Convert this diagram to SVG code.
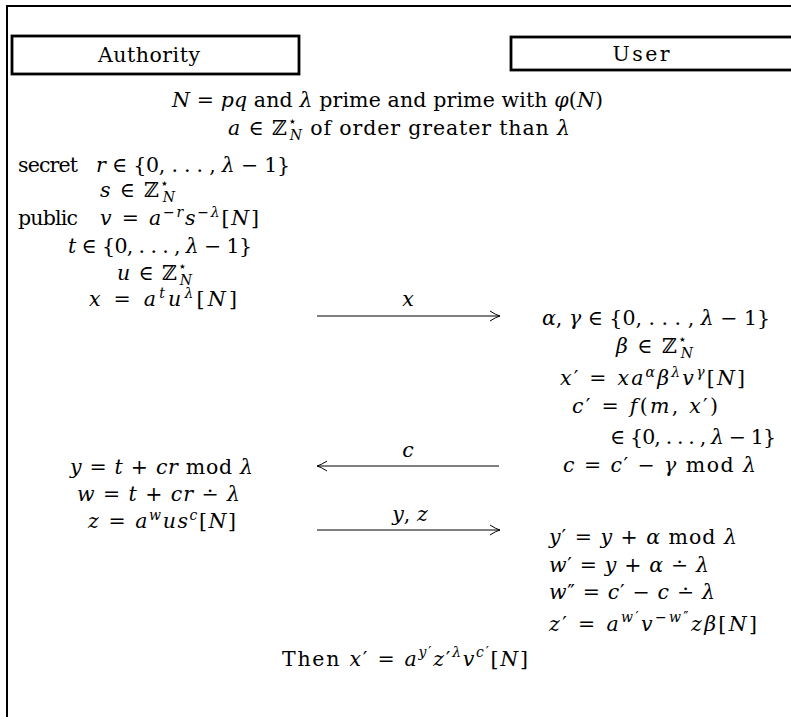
<svg xmlns="http://www.w3.org/2000/svg" width="791" height="717" viewBox="0 0 791 717">
<style>
.t { font-family: "DejaVu Serif", "Liberation Serif", serif; font-size: 20.5px; fill: #000; }
.i { font-style: italic; }
.s { font-size: 14px; }
.frame { fill: none; stroke: #000; stroke-width: 2; }
.box { fill: #fff; stroke: #000; stroke-width: 2.8; }
.arr { stroke: #000; stroke-width: 1.2; fill: none; }
.mid { text-anchor: middle; }
</style>
<defs>
<marker id="ah" viewBox="-11 -6 13 12" markerWidth="13" markerHeight="12" refX="0" refY="0" orient="auto" markerUnits="userSpaceOnUse">
<path d="M-10,-5 Q-4,-1 0,0 Q-4,1 -10,5" fill="none" stroke="#000" stroke-width="1"/>
</marker>
</defs>
<rect width="791" height="717" fill="#fff"/>
<g id="frame">
<path class="frame" d="M7,717 V6 H791"/>
</g>
<g id="authority-header">
<rect class="box" x="12" y="36" width="287" height="38"/>
<text class="t mid" x="149" y="62" textLength="102" lengthAdjust="spacing">Authority</text>
</g>
<g id="user-header">
<rect class="box" x="511" y="37" width="290" height="33"/>
<text class="t mid" x="641" y="61" textLength="57" lengthAdjust="spacing">User</text>
</g>
<g id="parameters">
<text class="t" x="172" y="107" textLength="431" lengthAdjust="spacing"><tspan class="i">N</tspan> = <tspan class="i">pq</tspan> and <tspan class="i">λ</tspan> prime and prime with <tspan class="i">φ</tspan>(<tspan class="i">N</tspan>)</text>
<text class="t" x="228" y="135" textLength="342" lengthAdjust="spacing"><tspan class="i">a</tspan> ∈ ℤ<tspan class="s" dy="-9">⋆</tspan><tspan class="s i" dx="-8" dy="14">N</tspan><tspan dy="-5"> of order greater than </tspan><tspan class="i">λ</tspan></text>
</g>
<g id="authority-setup">
<text class="t" x="18" y="172" textLength="60" lengthAdjust="spacing">secret</text>
<text class="t" x="96" y="172" textLength="194" lengthAdjust="spacing"><tspan class="i">r</tspan> ∈ {0, . . . , <tspan class="i">λ</tspan> − 1}</text>
<text class="t" x="100" y="197" textLength="75" lengthAdjust="spacing"><tspan class="i">s</tspan> ∈ ℤ<tspan class="s" dy="-9">⋆</tspan><tspan class="s i" dx="-8" dy="14">N</tspan></text>
<text class="t" x="18" y="225" textLength="60" lengthAdjust="spacing">public</text>
<text class="t" x="100" y="225" textLength="159" lengthAdjust="spacing"><tspan class="i">v</tspan> = <tspan class="i">a</tspan><tspan class="s" dy="-8">−<tspan class="i">r</tspan></tspan><tspan class="i" dy="8">s</tspan><tspan class="s" dy="-8">−<tspan class="i">λ</tspan></tspan><tspan dy="8">[<tspan class="i">N</tspan>]</tspan></text>
<text class="t" x="68" y="253" textLength="184" lengthAdjust="spacing"><tspan class="i">t</tspan> ∈ {0, . . . , <tspan class="i">λ</tspan> − 1}</text>
<text class="t" x="117" y="280" textLength="75" lengthAdjust="spacing"><tspan class="i">u</tspan> ∈ ℤ<tspan class="s" dy="-9">⋆</tspan><tspan class="s i" dx="-8" dy="14">N</tspan></text>
<text class="t" x="89" y="306" textLength="148" lengthAdjust="spacing"><tspan class="i">x</tspan> = <tspan class="i">a</tspan><tspan class="s i" dy="-8">t</tspan><tspan class="i" dy="8">u</tspan><tspan class="s i" dy="-8">λ</tspan><tspan dy="8">[<tspan class="i">N</tspan>]</tspan></text>
</g>
<g id="user-commit">
<text class="t" x="542" y="325" textLength="228" lengthAdjust="spacing"><tspan class="i">α</tspan>, <tspan class="i">γ</tspan> ∈ {0, . . . , <tspan class="i">λ</tspan> − 1}</text>
<text class="t" x="616" y="353" textLength="77" lengthAdjust="spacing"><tspan class="i">β</tspan> ∈ ℤ<tspan class="s" dy="-9">⋆</tspan><tspan class="s i" dx="-8" dy="14">N</tspan></text>
<text class="t" x="560" y="385" textLength="185" lengthAdjust="spacing"><tspan class="i">x</tspan>′ = <tspan class="i">xa</tspan><tspan class="s i" dy="-8">α</tspan><tspan class="i" dy="8">β</tspan><tspan class="s i" dy="-8">λ</tspan><tspan class="i" dy="8">v</tspan><tspan class="s i" dy="-8">γ</tspan><tspan dy="8">[<tspan class="i">N</tspan>]</tspan></text>
<text class="t" x="572" y="413" textLength="146" lengthAdjust="spacing"><tspan class="i">c</tspan>′ = <tspan class="i">f</tspan>(<tspan class="i">m</tspan>, <tspan class="i">x</tspan>′)</text>
<text class="t" x="610" y="444" textLength="166" lengthAdjust="spacing">∈ {0, . . . , <tspan class="i">λ</tspan> − 1}</text>
<text class="t" x="563" y="472" textLength="193" lengthAdjust="spacing"><tspan class="i">c</tspan> = <tspan class="i">c</tspan>′ − <tspan class="i">γ</tspan> mod <tspan class="i">λ</tspan></text>
</g>
<g id="authority-response">
<text class="t" x="70" y="474" textLength="183" lengthAdjust="spacing"><tspan class="i">y</tspan> = <tspan class="i">t</tspan> + <tspan class="i">cr</tspan> mod <tspan class="i">λ</tspan></text>
<text class="t" x="77" y="501" textLength="163" lengthAdjust="spacing"><tspan class="i">w</tspan> = <tspan class="i">t</tspan> + <tspan class="i">cr</tspan> ∸ <tspan class="i">λ</tspan></text>
<text class="t" x="88" y="528" textLength="148" lengthAdjust="spacing"><tspan class="i">z</tspan> = <tspan class="i">a</tspan><tspan class="s i" dy="-8">w</tspan><tspan class="i" dy="8">us</tspan><tspan class="s i" dy="-8">c</tspan><tspan dy="8">[<tspan class="i">N</tspan>]</tspan></text>
</g>
<g id="user-unblind">
<text class="t" x="549" y="544" textLength="188" lengthAdjust="spacing"><tspan class="i">y</tspan>′ = <tspan class="i">y</tspan> + <tspan class="i">α</tspan> mod <tspan class="i">λ</tspan></text>
<text class="t" x="549" y="572" textLength="160" lengthAdjust="spacing"><tspan class="i">w</tspan>′ = <tspan class="i">y</tspan> + <tspan class="i">α</tspan> ∸ <tspan class="i">λ</tspan></text>
<text class="t" x="549" y="599" textLength="166" lengthAdjust="spacing"><tspan class="i">w</tspan>″ = <tspan class="i">c</tspan>′ − <tspan class="i">c</tspan> ∸ <tspan class="i">λ</tspan></text>
<text class="t" x="549" y="631" textLength="208" lengthAdjust="spacing"><tspan class="i">z</tspan>′ = <tspan class="i">a</tspan><tspan class="s" dy="-9"><tspan class="i">w</tspan>′</tspan><tspan class="i" dy="9">v</tspan><tspan class="s" dy="-9">−<tspan class="i">w</tspan>″</tspan><tspan class="i" dy="9">zβ</tspan>[<tspan class="i">N</tspan>]</text>
</g>
<g id="conclusion">
<text class="t" x="282" y="666" textLength="246" lengthAdjust="spacing">Then <tspan class="i">x</tspan>′ = <tspan class="i">a</tspan><tspan class="s" dy="-9"><tspan class="i">y</tspan>′</tspan><tspan class="i" dy="9">z</tspan>′<tspan class="s i" dy="-9">λ</tspan><tspan class="i" dy="9">v</tspan><tspan class="s" dy="-9"><tspan class="i">c</tspan>′</tspan><tspan dy="9">[<tspan class="i">N</tspan>]</tspan></text>
</g>
<g id="connectors">
<line class="arr" x1="317" y1="316" x2="500" y2="316" marker-end="url(#ah)"/>
<text class="t i mid" x="408" y="306">x</text>
<line class="arr" x1="499" y1="466" x2="317" y2="466" marker-end="url(#ah)"/>
<text class="t i mid" x="408" y="457">c</text>
<line class="arr" x1="317" y1="530" x2="500" y2="530" marker-end="url(#ah)"/>
<text class="t mid" x="410" y="521"><tspan class="i">y</tspan>, <tspan class="i">z</tspan></text>
</g>
</svg>
